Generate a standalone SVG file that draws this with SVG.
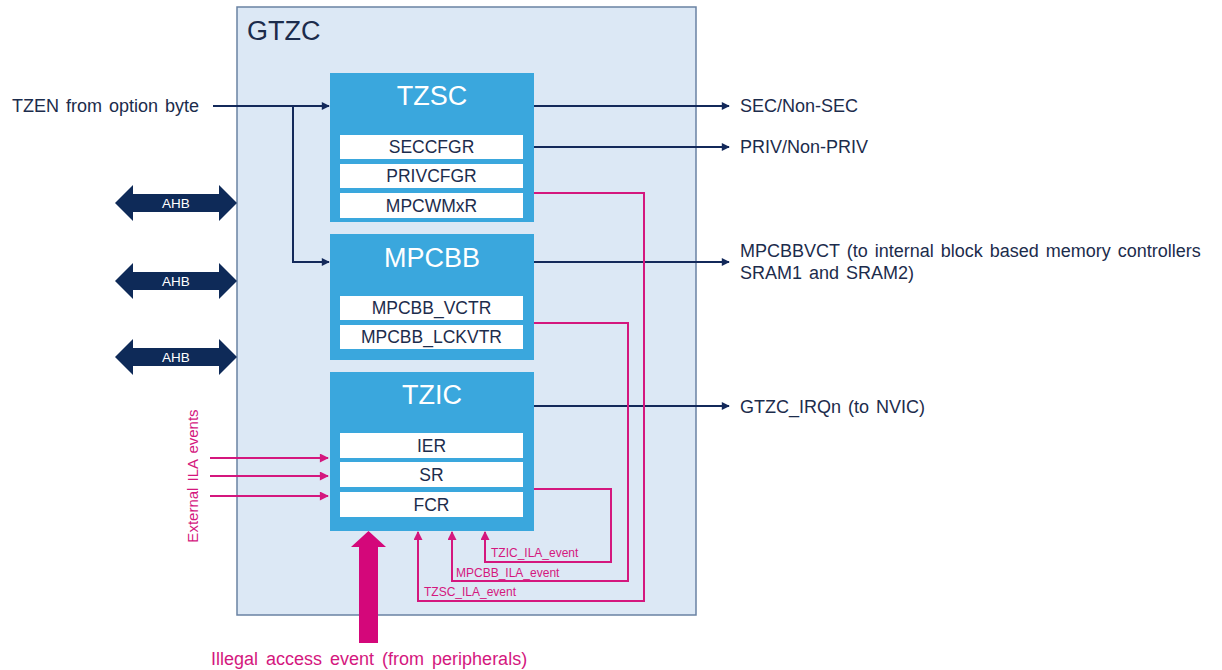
<svg xmlns="http://www.w3.org/2000/svg" width="1222" height="670" viewBox="0 0 1222 670">
<style>
.t{font-family:"Liberation Sans",Arial,sans-serif}
.dark{fill:#1c2c4c}
.blk{fill:#3aa7dd}
.reg{fill:#ffffff}
.title{font-size:27px;fill:#ffffff;text-anchor:middle}
.rt{font-size:17.5px;fill:#1c2c4c;text-anchor:middle}
.out{font-size:18px;fill:#1c2c4c;word-spacing:2px}
.nl{fill:none;stroke:#13295a;stroke-width:2}
.pl{fill:none;stroke:#d4177e;stroke-width:2}
.pt{font-size:12px;fill:#d4177e}
.ahb{fill:#0e2a58}
</style>
<defs>
<marker id="ad" viewBox="0 0 10 10" refX="9" refY="5" markerWidth="10" markerHeight="8" markerUnits="userSpaceOnUse" orient="auto"><path d="M0,0 L10,5 L0,10 z" fill="#13295a"/></marker>
<marker id="ap" viewBox="0 0 10 10" refX="9" refY="5" markerWidth="10" markerHeight="9" markerUnits="userSpaceOnUse" orient="auto"><path d="M0,0 L10,5 L0,10 z" fill="#d4177e"/></marker>
</defs>
<rect width="1222" height="670" fill="#ffffff"/>
<g id="gtzc">
<rect x="237" y="7" width="459" height="608" fill="#dce8f5" stroke="#6a82a3" stroke-width="1.5"/>
<text class="t dark" x="247" y="40" font-size="27">GTZC</text>
</g>
<g id="tzsc">
<rect class="blk" x="330" y="73" width="204" height="149"/>
<text class="t title" x="432" y="105">TZSC</text>
<rect class="reg" x="340" y="135" width="183" height="24"/>
<text class="t rt" x="431.5" y="153">SECCFGR</text>
<rect class="reg" x="340" y="164" width="183" height="24"/>
<text class="t rt" x="431.5" y="182">PRIVCFGR</text>
<rect class="reg" x="340" y="193" width="183" height="25"/>
<text class="t rt" x="431.5" y="211.5">MPCWMxR</text>
</g>
<g id="mpcbb">
<rect class="blk" x="330" y="234" width="204" height="126"/>
<text class="t title" x="432" y="267">MPCBB</text>
<rect class="reg" x="340" y="296" width="183" height="24"/>
<text class="t rt" x="431.5" y="314">MPCBB_VCTR</text>
<rect class="reg" x="340" y="325" width="183" height="24"/>
<text class="t rt" x="431.5" y="343">MPCBB_LCKVTR</text>
</g>
<g id="tzic">
<rect class="blk" x="330" y="372" width="204" height="159"/>
<text class="t title" x="432" y="404">TZIC</text>
<rect class="reg" x="340" y="433" width="183" height="25"/>
<text class="t rt" x="431.5" y="452">IER</text>
<rect class="reg" x="340" y="462" width="183" height="25"/>
<text class="t rt" x="431.5" y="481">SR</text>
<rect class="reg" x="340" y="492" width="183" height="25"/>
<text class="t rt" x="431.5" y="511">FCR</text>
</g>
<g id="ahb">
<path class="ahb" d="M115,203 L133,185 L133,194 L219,194 L219,185 L237,203 L219,221 L219,212 L133,212 L133,221 Z"/>
<text class="t" x="176" y="208" font-size="13.5" fill="#ffffff" text-anchor="middle">AHB</text>
<path class="ahb" d="M115,281 L133,263 L133,272 L219,272 L219,263 L237,281 L219,299 L219,290 L133,290 L133,299 Z"/>
<text class="t" x="176" y="286" font-size="13.5" fill="#ffffff" text-anchor="middle">AHB</text>
<path class="ahb" d="M115,357 L133,339 L133,348 L219,348 L219,339 L237,357 L219,375 L219,366 L133,366 L133,375 Z"/>
<text class="t" x="176" y="362" font-size="13.5" fill="#ffffff" text-anchor="middle">AHB</text>
</g>
<g id="connectors">
<path class="nl" d="M213,106 L329,106" marker-end="url(#ad)"/>
<path class="nl" d="M293,106 L293,262 L329,262" marker-end="url(#ad)"/>
<path class="nl" d="M534,106 L729,106" marker-end="url(#ad)"/>
<path class="nl" d="M534,147 L729,147" marker-end="url(#ad)"/>
<path class="nl" d="M534,262 L729,262" marker-end="url(#ad)"/>
<path class="nl" d="M534,406 L729,406" marker-end="url(#ad)"/>
<path class="pl" d="M210,458 L328,458" marker-end="url(#ap)"/>
<path class="pl" d="M210,476 L328,476" marker-end="url(#ap)"/>
<path class="pl" d="M210,496 L328,496" marker-end="url(#ap)"/>
<path class="pl" d="M534,489 L611,489 L611,562 L485,562 L485,532" marker-end="url(#ap)"/>
<path class="pl" d="M534,323 L628,323 L628,581 L452,581 L452,532" marker-end="url(#ap)"/>
<path class="pl" d="M534,193 L644,193 L644,601 L418,601 L418,532" marker-end="url(#ap)"/>
<path d="M359,643 L359,547 L351,547 L368.5,531 L386,547 L378,547 L378,643 Z" fill="#d4077a"/>
</g>
<g id="labels">
<text class="t out" x="12" y="112">TZEN from option byte</text>
<text class="t out" x="740" y="112">SEC/Non-SEC</text>
<text class="t out" x="740" y="153">PRIV/Non-PRIV</text>
<text class="t out" x="740" y="257">MPCBBVCT (to internal block based memory controllers</text>
<text class="t out" x="740" y="279">SRAM1 and SRAM2)</text>
<text class="t out" x="740" y="413">GTZC_IRQn (to NVIC)</text>
<text class="t pt" x="491" y="557">TZIC_ILA_event</text>
<text class="t pt" x="456" y="577">MPCBB_ILA_event</text>
<text class="t pt" x="424" y="596">TZSC_ILA_event</text>
<text class="t" x="0" y="0" font-size="15" fill="#d4177e" text-anchor="middle" word-spacing="2" transform="translate(198,476) rotate(-90)">External ILA events</text>
<text class="t" x="211" y="665" font-size="18" fill="#d4177e" word-spacing="3">Illegal access event (from peripherals)</text>
</g>
</svg>
